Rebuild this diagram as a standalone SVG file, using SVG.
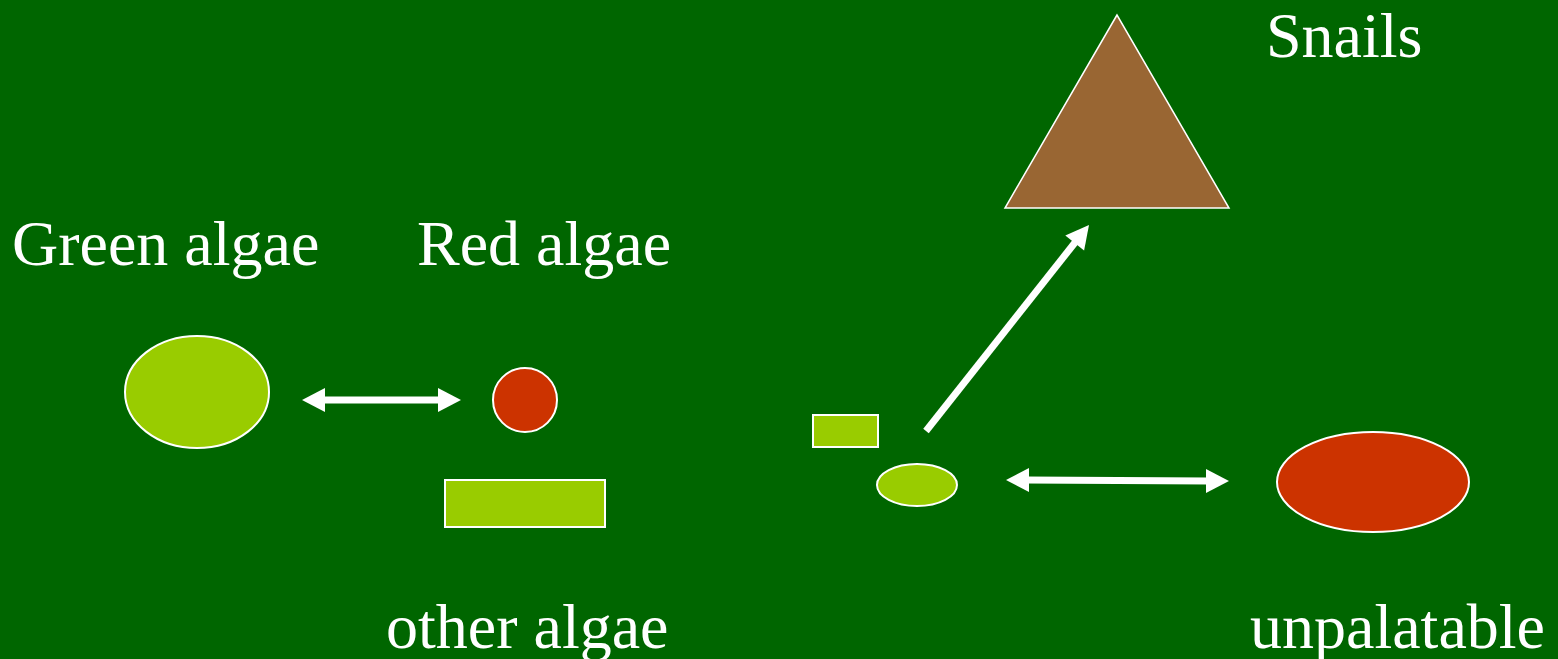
<svg xmlns="http://www.w3.org/2000/svg" width="1558" height="659" viewBox="0 0 1558 659">
<style>
.t{font-family:"Liberation Serif","Times New Roman",serif;font-size:64px;fill:#fff}
.g{fill:#99CC00;stroke:#fff;stroke-width:2}
.r{fill:#CC3300;stroke:#fff;stroke-width:2}
.c{stroke:#fff;stroke-width:7;fill:none}
.h{fill:#fff}
</style>
<rect width="1558" height="659" fill="#006600"/>
<g id="green-algae"><ellipse class="g" cx="197" cy="392" rx="72" ry="56"/><text class="t" x="12" y="265">Green algae</text></g>
<g id="red-algae"><circle class="r" cx="525" cy="400" r="32"/><text class="t" x="417" y="265">Red algae</text></g>
<g id="other-algae"><rect class="g" x="445" y="480" width="160" height="47"/><text class="t" x="386" y="648">other algae</text></g>
<g id="small-rect"><rect class="g" x="813" y="415" width="65" height="32"/></g>
<g id="small-ellipse"><ellipse class="g" cx="917" cy="485" rx="40" ry="21"/></g>
<g id="snails"><polygon points="1117,15 1005,208 1229,208" fill="#996633" stroke="#fff" stroke-width="1.5"/><text class="t" x="1266" y="57">Snails</text></g>
<g id="unpalatable"><ellipse class="r" cx="1373" cy="482" rx="96" ry="50"/><text class="t" x="1250" y="648">unpalatable</text></g>
<g id="connectors">
<line class="c" x1="322" y1="400" x2="441" y2="400"/>
<polygon class="h" points="302,400 325,388 325,412"/>
<polygon class="h" points="461,400 438,388 438,412"/>
<line class="c" x1="1026" y1="480" x2="1209" y2="481"/>
<polygon class="h" points="1006,480 1029,468 1029,492"/>
<polygon class="h" points="1229,481 1206,469 1206,493"/>
<line class="c" x1="926" y1="431" x2="1077" y2="240"/>
<polygon class="h" points="1089,225 1084.1,250.4 1065.3,235.6"/>
</g>
</svg>
